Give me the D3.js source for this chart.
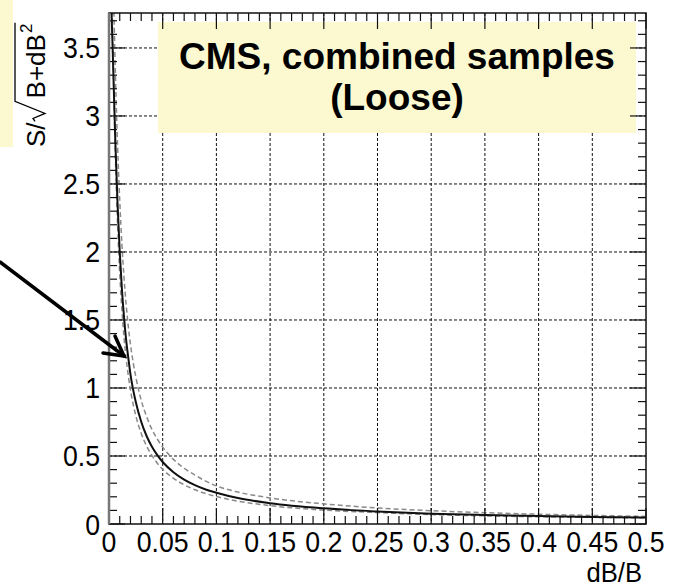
<!DOCTYPE html>
<html><head><meta charset="utf-8">
<script src="https://cdn.jsdelivr.net/npm/d3@7"></script>
<style>html,body{margin:0;padding:0;background:#fff;}svg{display:block;}</style>
</head><body>
<svg id="chart" width="677" height="588"></svg>
<script>
// ---- data ----
const xTickValues = [0, 0.05, 0.1, 0.15, 0.2, 0.25, 0.3, 0.35, 0.4, 0.45, 0.5];
const xTickLabels = ["0", "0.05", "0.1", "0.15", "0.2", "0.25", "0.3", "0.35", "0.4", "0.45", "0.5"];
const yTickValues = [0, 0.5, 1, 1.5, 2, 2.5, 3, 3.5];
const yTickLabels = ["0", "0.5", "1", "1.5", "2", "2.5", "3", "3.5"];

const dBoverB = [0, 0.002, 0.004, 0.006, 0.008, 0.01, 0.012, 0.014, 0.016, 0.018, 0.02, 0.025, 0.03, 0.035, 0.04, 0.045, 0.05, 0.06, 0.07, 0.08, 0.09, 0.1, 0.12, 0.15, 0.2, 0.25, 0.3, 0.35, 0.4, 0.45, 0.5];
const significance = [4.1, 3.85, 3.33, 2.79, 2.35, 2.0, 1.73, 1.52, 1.35, 1.22, 1.1, 0.895, 0.752, 0.647, 0.568, 0.506, 0.456, 0.381, 0.327, 0.286, 0.254, 0.23, 0.191, 0.153, 0.115, 0.092, 0.076, 0.066, 0.058, 0.052, 0.048];
const significanceUp = [5.0, 4.6, 3.95, 3.3, 2.78, 2.38, 2.06, 1.81, 1.61, 1.45, 1.32, 1.08, 0.91, 0.79, 0.695, 0.625, 0.565, 0.475, 0.41, 0.36, 0.315, 0.28, 0.235, 0.192, 0.148, 0.118, 0.098, 0.083, 0.072, 0.063, 0.056];
const significanceDown = [4.6, 4.09, 3.35, 2.69, 2.2, 1.84, 1.575, 1.37, 1.215, 1.09, 0.985, 0.795, 0.666, 0.573, 0.502, 0.447, 0.402, 0.336, 0.288, 0.252, 0.224, 0.202, 0.168, 0.135, 0.102, 0.084, 0.069, 0.06, 0.053, 0.049, 0.045];

const titleLines = ["CMS, combined samples", "(Loose)"];
const xTitle = "dB/B";

// ---- layout ----
const svg = d3.select("#chart");
const L = 109, R = 646, T = 13, B = 524;
const x = d3.scaleLinear().domain([0, 0.5]).range([L, R]);
const y = d3.scaleLinear().domain([0, 3.757]).range([B, T]);
const cream = "#fcf8cf";
const font = "'Liberation Sans', Arial, Helvetica, sans-serif";

// left cream strip (cut-off legend)
svg.append("rect").attr("x", 0).attr("y", 0).attr("width", 13).attr("height", 147).attr("fill", cream);

// clip
svg.append("clipPath").attr("id", "clip").append("rect")
  .attr("x", L).attr("y", T).attr("width", R - L).attr("height", B - T);

// grid
const grid = svg.append("g").attr("stroke", "#111").attr("stroke-width", 1).attr("stroke-dasharray", "3,2").attr("fill", "none");
xTickValues.slice(1, -1).forEach(v => {
  grid.append("line").attr("x1", x(v)).attr("x2", x(v)).attr("y1", T).attr("y2", B);
});
yTickValues.slice(1).forEach(v => {
  grid.append("line").attr("x1", L).attr("x2", R).attr("y1", y(v)).attr("y2", y(v));
});

// curves
const line = d3.line().x(d => x(d[0])).y(d => y(d[1])).curve(d3.curveMonotoneX);
const curves = svg.append("g").attr("clip-path", "url(#clip)").attr("fill", "none");
curves.append("path").datum(dBoverB.map((v, i) => [v, significanceUp[i]]))
  .attr("d", line).attr("stroke", "#8a8a8a").attr("stroke-width", 1.5).attr("stroke-dasharray", "5,3");
curves.append("path").datum(dBoverB.map((v, i) => [v, significanceDown[i]]))
  .attr("d", line).attr("stroke", "#8a8a8a").attr("stroke-width", 1.5).attr("stroke-dasharray", "5,3");
curves.append("path").datum(dBoverB.map((v, i) => [v, significance[i]]))
  .attr("d", line).attr("stroke", "#111").attr("stroke-width", 2);

// title box
svg.append("rect").attr("x", 158).attr("y", 22).attr("width", 478).attr("height", 111).attr("fill", cream);
svg.append("text").attr("x", 397).attr("y", 69).attr("text-anchor", "middle")
  .attr("font-family", font).attr("font-weight", "bold").attr("font-size", 37).attr("fill", "#000").text(titleLines[0]);
svg.append("text").attr("x", 397).attr("y", 110).attr("text-anchor", "middle")
  .attr("font-family", font).attr("font-weight", "bold").attr("font-size", 37).attr("fill", "#000").text(titleLines[1]);

// axes: ticks on all four sides
const minorX = d3.range(0, 51).map(i => i / 100);
const minorY = d3.range(0, 38).map(i => i / 10).filter(v => v <= 3.757);
const ticks = svg.append("g").attr("stroke", "#111").attr("stroke-width", 1.2);
minorX.forEach((v, i) => {
  const len = (i % 5 === 0) ? 16 : 8;
  ticks.append("line").attr("x1", x(v)).attr("x2", x(v)).attr("y1", B).attr("y2", B - len);
  ticks.append("line").attr("x1", x(v)).attr("x2", x(v)).attr("y1", T).attr("y2", T + len);
});
minorY.forEach((v, i) => {
  const len = (i % 5 === 0) ? 16 : 8;
  ticks.append("line").attr("x1", L).attr("x2", L + len).attr("y1", y(v)).attr("y2", y(v));
  ticks.append("line").attr("x1", R).attr("x2", R - len).attr("y1", y(v)).attr("y2", y(v));
});
// frame
svg.append("rect").attr("x", L).attr("y", T).attr("width", R - L).attr("height", B - T)
  .attr("fill", "none").attr("stroke", "#111").attr("stroke-width", 1.5);
svg.append("line").attr("x1", L).attr("x2", L).attr("y1", T).attr("y2", B)
  .attr("stroke", "#777").attr("stroke-width", 2.5);

// tick labels (slightly condensed, like the reference's Helvetica)
const xAxisG = svg.append("g").attr("font-family", font).attr("font-size", 29).attr("fill", "#000").attr("text-anchor", "middle");
xTickValues.forEach((v, i) => {
  xAxisG.append("text").attr("transform", `translate(${x(v)},552) scale(0.92,1)`).text(xTickLabels[i]);
});
const yAxisG = svg.append("g").attr("font-family", font).attr("font-size", 29).attr("fill", "#000").attr("text-anchor", "end");
yTickValues.forEach((v, i) => {
  yAxisG.append("text").attr("transform", `translate(100,${y(v) + 10.5}) scale(0.92,1)`).text(yTickLabels[i]);
});

// x title
svg.append("text").attr("transform", "translate(642,582) scale(0.95,1)").attr("text-anchor", "end")
  .attr("font-family", font).attr("font-size", 27).attr("fill", "#000").text(xTitle);

// y title: S/sqrt(B+dB^2)
const yt = svg.append("g").attr("transform", "translate(45,147) rotate(-90)")
  .attr("font-family", font).attr("fill", "#000");
const t1 = yt.append("text").attr("x", 0).attr("y", 0).attr("font-size", 26).text("S/");
const w1 = t1.node().getComputedTextLength();
const t2 = yt.append("text").attr("x", w1 + 24).attr("y", 0).attr("font-size", 26).text("B+dB");
const w2 = t2.node().getComputedTextLength();
const t3 = yt.append("text").attr("x", w1 + 25 + w2).attr("y", -13).attr("font-size", 17).text("2");
const w3 = t3.node().getComputedTextLength();
yt.append("path")
  .attr("d", `M${w1 + 1},-10 L${w1 + 4},-12 L${w1 + 9},0 L${w1 + 21},-30 L${w1 + 26 + w2 + w3},-30`)
  .attr("fill", "none").attr("stroke", "#000").attr("stroke-width", 1.3);

// arrow
const arrow = svg.append("g").attr("stroke", "#000").attr("stroke-width", 3.5).attr("fill", "none").attr("stroke-linecap", "round");
arrow.append("line").attr("x1", 0).attr("y1", 262).attr("x2", 124).attr("y2", 356);
arrow.append("path").attr("d", "M115,336 L124,356 L103,353");
</script>
</body></html>
